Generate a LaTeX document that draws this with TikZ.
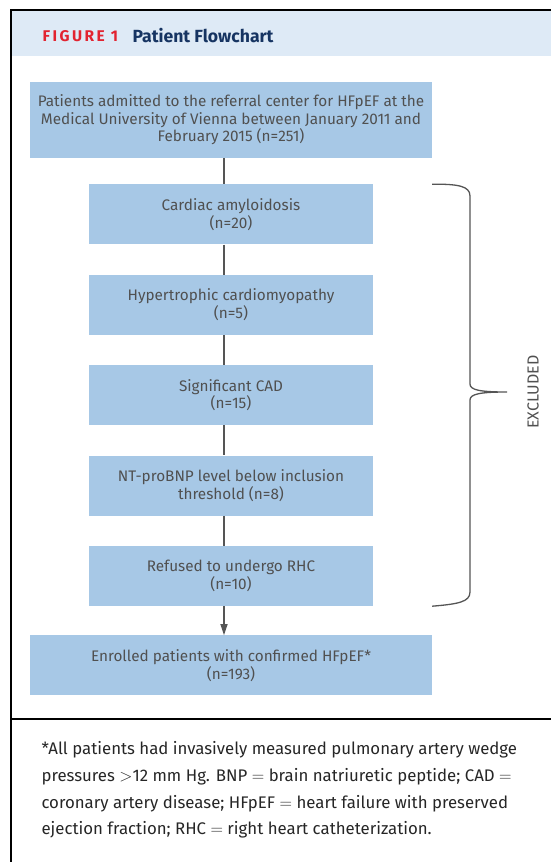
\documentclass[tikz,border=0pt]{standalone}
\usepackage{fontspec}
\setmainfont{Fira Sans}
\usetikzlibrary{arrows.meta,positioning,calc}
\definecolor{flowblue}{RGB}{167,200,230}
\definecolor{headblue}{RGB}{222,234,246}
\definecolor{figred}{RGB}{226,35,48}
\definecolor{titlenavy}{RGB}{22,52,98}
\definecolor{boxtext}{RGB}{80,80,80}
\definecolor{linegray}{RGB}{85,85,85}

\begin{document}
\begin{tikzpicture}[x=1pt, y=-1pt, node distance=30pt, >=Latex,
  every node/.style={font=\fontsize{15.3}{17.5}\selectfont},
  stepbox/.style={fill=flowblue, text=boxtext, align=center, minimum width=284pt, minimum height=60pt, inner sep=0pt},
  widebox/.style={stepbox, minimum width=402pt},
  spine/.style={linegray, line width=1.3pt}]
\useasboundingbox (0,0) rectangle (551,862);
% frame and header
\fill[headblue] (11,10) rectangle (551,56);
\draw[line width=1.5pt] (551,10) -- (11,10) -- (11,862);
\draw[line width=1.5pt] (11,719) -- (551,719);
\node[anchor=west, text=figred, font=\fontsize{15.5}{18}\selectfont\bfseries\addfontfeature{LetterSpace=16}] (fig) at (39,36) {FIGURE 1};
\node[anchor=west, text=titlenavy, font=\fontsize{17.6}{20}\selectfont\bfseries] (title) at (129,36) {Patient Flowchart};
% boxes
\node[widebox, minimum height=76pt] (all) at (231,120) {Patients admitted to the referral center for HFpEF at the\\Medical University of Vienna between January 2011 and\\February 2015 (n=251)};
\node[stepbox, below=26pt of all] (amy) {Cardiac amyloidosis\\(n=20)};
\node[stepbox, below=of amy] (hcm) {Hypertrophic cardiomyopathy\\(n=5)};
\node[stepbox, below=of hcm] (cad) {Significant CAD\\(n=15)};
\node[stepbox, below=of cad] (bnp) {NT-proBNP level below inclusion\\threshold (n=8)};
\node[stepbox, below=of bnp] (rhc) {Refused to undergo RHC\\(n=10)};
\node[widebox, below=29pt of rhc] (enr) {Enrolled patients with confirmed HFpEF*\\(n=193)};
% connectors
\coordinate (axis) at (224,0);
\foreach \a/\b in {all/amy, amy/hcm, hcm/cad, cad/bnp, bnp/rhc}
  \draw[spine] (\a.south -| axis) -- (\b.north -| axis);
\draw[spine, -{Triangle[width=7pt,length=11pt]}] (rhc.south -| axis) -- (enr.north -| axis);
% brace
\coordinate (tip) at (507,392);
\draw[spine] (all.east |- amy.north) .. controls (458,184) and (470,186) .. (470,196) -- (470,384)
  .. controls (470,390) and (480,392) .. (tip)
  .. controls (480,392) and (470,394) .. (470,400) -- (470,592)
  .. controls (470,602) and (458,604) .. (all.east |- rhc.south);
\node[rotate=90, text=boxtext, font=\fontsize{16}{18}\selectfont] (excl) at (533,392) {EXCLUDED};
% footnote
\node[anchor=north west, align=left, text=black!85, font=\fontsize{16.8}{26.7}\selectfont] (note) at (38,738) {*All patients had invasively measured pulmonary artery wedge\\pressures $>$12 mm Hg. BNP $=$ brain natriuretic peptide; CAD $=$\\coronary artery disease; HFpEF $=$ heart failure with preserved\\ejection fraction; RHC $=$ right heart catheterization.};
\end{tikzpicture}
\end{document}
